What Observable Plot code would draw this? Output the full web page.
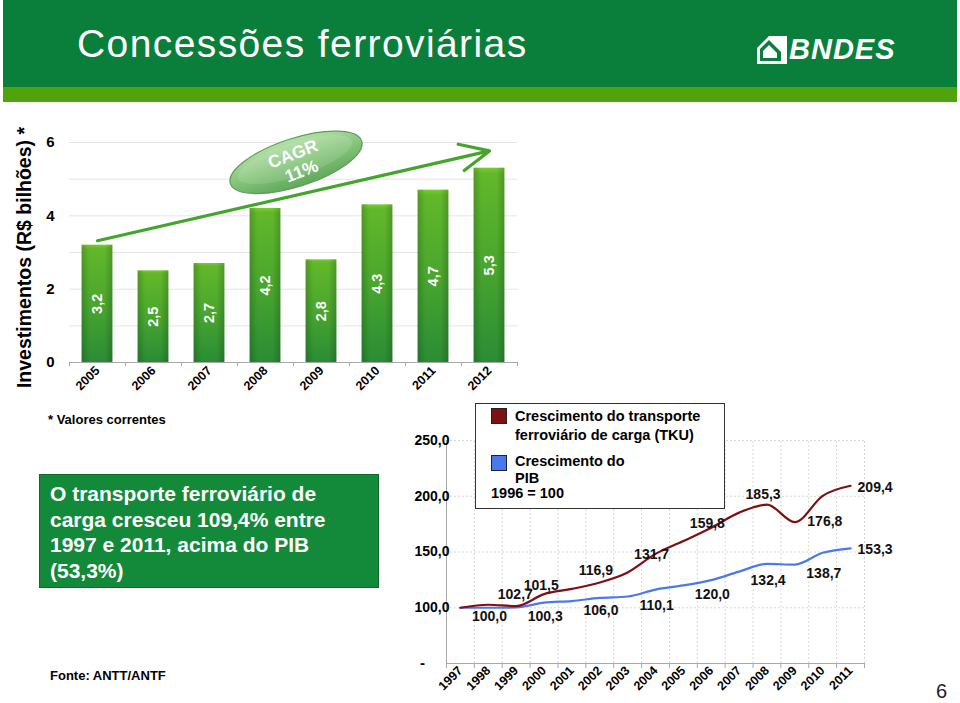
<!DOCTYPE html>
<html><head><meta charset="utf-8">
<script src="https://cdn.jsdelivr.net/npm/d3@7"></script>
<script src="https://cdn.jsdelivr.net/npm/@observablehq/plot@0.6"></script>
<style>
  html,body{margin:0;padding:0;background:#fff;}
  body{width:960px;height:703px;position:relative;overflow:hidden;font-family:"Liberation Sans",Arial,sans-serif;color:#000;}
  .abs{position:absolute;}
  #hdr{left:3px;top:0px;width:954px;height:87px;background:#0a7f3b;}
  #hdr2{left:3px;top:87px;width:954px;height:15px;background:#51a30b;}
  #title{left:77px;top:22px;font-size:39px;color:#fff;letter-spacing:1.4px;white-space:nowrap;}
  #logo{left:757px;top:36px;}
  #bndes{left:789px;top:33px;font-size:29px;font-weight:bold;font-style:italic;color:#fff;letter-spacing:1px;}
  #ylab{left:-131px;top:246px;width:310px;text-align:center;transform:rotate(-90deg);font-size:19.5px;font-weight:bold;white-space:nowrap;}
  #note{left:48px;top:412px;font-size:13px;font-weight:bold;}
  #box{left:39px;top:474px;width:338px;height:112px;background:#13893a;border:1px solid #0c6a2c;}
  #boxtxt{left:50px;top:481px;font-size:21px;line-height:25.7px;font-weight:bold;color:#fff;white-space:nowrap;}
  #fonte{left:50px;top:668px;font-size:13px;font-weight:bold;}
  #page{left:936px;top:680px;font-size:20px;color:#222;line-height:22px;}
  #legend{left:475px;top:403px;width:248px;height:104px;border:1px solid #333;background:#fff;}
  .sw{position:absolute;width:14px;height:14px;border:1px solid #222;}
  .lt{position:absolute;font-size:14.5px;font-weight:bold;white-space:nowrap;line-height:17px;}
  svg{overflow:visible;}
</style>
</head><body>
<div id="hdr" class="abs"></div>
<div id="hdr2" class="abs"></div>
<div id="title" class="abs">Concessões ferroviárias</div>
<svg id="logo" class="abs" width="30" height="28" viewBox="0 0 30 28">
  <polygon points="0,12 12,0 30,0 30,28 0,28" fill="#fff"/>
  <polygon points="3,13 12,4 24,16 24,25 3,25" fill="#0a7f3b"/>
  <polygon points="6,15 12,9 20,17 20,22 6,22" fill="#fff"/>
</svg>
<div id="bndes" class="abs">BNDES</div>
<div id="ylab" class="abs">Investimentos (R$ bilhões) *</div>
<div id="barchart" class="abs" style="left:0;top:100px;"></div>
<div id="note" class="abs">* Valores correntes</div>
<div id="box" class="abs"></div>
<div id="boxtxt" class="abs">O transporte ferroviário de<br>carga cresceu 109,4% entre<br>1997 e 2011, acima do PIB<br>(53,3%)</div>
<div id="fonte" class="abs">Fonte: ANTT/ANTF</div>
<div id="linechart" class="abs" style="left:400px;top:400px;"></div>
<div id="legend" class="abs"></div>
<div id="page" class="abs">6</div>
<script>
// ---------- data ----------
const barYears = ["2005","2006","2007","2008","2009","2010","2011","2012"];
const barValues = [3.2, 2.5, 2.7, 4.2, 2.8, 4.3, 4.7, 5.3];
const barTicks = [0, 2, 4, 6];
const cagrText = ["CAGR", "11%"];

const lineYears = ["1997","1998","1999","2000","2001","2002","2003","2004","2005","2006","2007","2008","2009","2010","2011"];
const tkuValues = [100.0, 102.7, 101.5, 112.2, 116.9, 122.7, 131.7, 148.3, 159.8, 171.8, 185.3, 192.5, 176.8, 200.4, 209.4];
const pibValues = [100.0, 100.0, 100.3, 104.6, 106.0, 108.8, 110.1, 116.3, 120.0, 124.8, 132.4, 139.3, 138.7, 149.3, 153.3];
const tkuLabelYears = ["1998","1999","2001","2003","2005","2007","2009","2011"];
const pibLabelYears = ["1997","1999","2001","2003","2005","2007","2009","2011"];
const lineTicks = [100, 150, 200, 250];
const lineMin = 50;
const seriesNames = ["Crescimento do transporte\nferroviário de carga (TKU)", "Crescimento do\nPIB"];
const baseNote = "1996 = 100";

// ---------- helpers ----------
const fmt1 = v => v.toFixed(1).replace(".", ",");
const font = '"Liberation Sans", Arial, sans-serif';
const RED = "#7d1012", BLUE = "#4a78ee";

// ---------- bar chart ----------
const barData = barYears.map((y, i) => ({year: y, value: barValues[i]}));
const bW = 530, bML = 69, bMR = 13;
const bStep = (bW - bML - bMR) / barYears.length;
const barPlot = Plot.plot({
  width: bW, height: 300,
  marginLeft: bML, marginRight: bMR, marginTop: 42, marginBottom: 38,
  style: {fontFamily: font, background: "transparent", color: "#000"},
  x: {domain: barYears, paddingInner: 0.45, paddingOuter: 0.225, round: false, axis: null},
  y: {domain: [0, 6], axis: null},
  marks: [
    Plot.gridY(d3.range(0, 7), {stroke: "#e4e4e4", strokeOpacity: 1}),
    Plot.axisY({ticks: barTicks, tickFormat: d => String(d), tickSize: 0, tickPadding: 15, fontSize: 15, fontWeight: "bold", label: null}),
    Plot.barY(barData, {x: "year", y: "value", fill: "url(#barGrad)"}),
    Plot.barY(barData, {x: "year", y: "value", fill: "url(#barShade)"}),
    Plot.ruleY([0], {stroke: "#a8a8a8"}),
    Plot.ruleX(barYears, {x: d => d, dx: -bStep / 2, y1: 0, y2: 0, insetBottom: -4, stroke: "#a8a8a8"}),
    Plot.ruleX([barYears[barYears.length - 1]], {x: d => d, dx: bStep / 2, y1: 0, y2: 0, insetBottom: -4, stroke: "#a8a8a8"}),
    Plot.axisX({tickSize: 0, tickRotate: -45, tickPadding: 6, fontSize: 12.5, fontWeight: "bold", label: null}),
    Plot.text(barData, {x: "year", y: d => d.value / 2, text: d => fmt1(d.value), rotate: -90,
      fill: "#fff", fontSize: 14.5, fontWeight: "bold"}),
    Plot.arrow([0], {x1: () => barYears[0], y1: () => barValues[0] + 0.12,
      x2: () => barYears[barYears.length - 1], y2: () => d3.max(barValues) + 0.47,
      stroke: "#43a52b", strokeWidth: 3.2, headLength: 15, headAngle: 50})
  ]
});
(function decorateBars(svg) {
  const s = d3.select(svg);
  s.insert("defs", ":first-child").html(`
    <linearGradient id="barGrad" x1="0" y1="0" x2="0" y2="1">
      <stop offset="0" stop-color="#7acb33"/>
      <stop offset="0.03" stop-color="#62b82a"/>
      <stop offset="0.5" stop-color="#49a62e"/>
      <stop offset="1" stop-color="#2a8c35"/>
    </linearGradient>
    <linearGradient id="barShade" x1="0" y1="0" x2="1" y2="0">
      <stop offset="0" stop-color="#000" stop-opacity="0.18"/>
      <stop offset="0.25" stop-color="#000" stop-opacity="0"/>
      <stop offset="0.75" stop-color="#000" stop-opacity="0"/>
      <stop offset="1" stop-color="#000" stop-opacity="0.18"/>
    </linearGradient>
    <linearGradient id="ellGrad" x1="0" y1="0" x2="0" y2="1">
      <stop offset="0" stop-color="#b4e0a6"/>
      <stop offset="0.5" stop-color="#86c57c"/>
      <stop offset="1" stop-color="#5fa95c"/>
    </linearGradient>`);
  const xs = barPlot.scale("x"), ys = barPlot.scale("y");
  const cx0 = xs.apply(barYears[0]) + xs.bandwidth / 2;
  const cx1 = xs.apply(barYears[barYears.length - 1]) + xs.bandwidth / 2;
  const cy0 = ys.apply(barValues[0] + 0.12), cy1 = ys.apply(d3.max(barValues) + 0.47);
  const mx = (cx0 + cx1) / 2, my = (cy0 + cy1) / 2;
  const g = s.append("g").attr("transform", `translate(${mx + 3},${my - 33}) rotate(-18)`);
  g.append("ellipse").attr("rx", 69).attr("ry", 24).attr("fill", "url(#ellGrad)")
    .attr("stroke", "#5c9e58").attr("stroke-width", 1.2);
  g.append("ellipse").attr("rx", 60).attr("ry", 17).attr("cy", -3).attr("fill", "#fff").attr("opacity", 0.12);
  const t = g.append("text").attr("text-anchor", "middle").attr("fill", "#fff")
    .attr("font-family", font).attr("font-weight", "bold").attr("font-size", 17.5)
    .attr("transform", "rotate(-3)");
  t.append("tspan").attr("x", 0).attr("y", -3).text(cagrText[0]);
  t.append("tspan").attr("x", 2).attr("y", 16).text(cagrText[1]);
})(barPlot);
document.getElementById("barchart").appendChild(barPlot);

// ---------- line chart ----------
const tkuData = lineYears.map((y, i) => ({year: y, value: tkuValues[i]}));
const pibData = lineYears.map((y, i) => ({year: y, value: pibValues[i]}));
const lW = 560, lML = 46, lMR = 96;
const lStep = (lW - lML - lMR) / lineYears.length;
const lastYear = lineYears[lineYears.length - 1];
// label placement (layout only): default offsets per series, special cases by key
const nudge = {"tku-1998": [27, -10], "tku-1999": [25, -21], "tku-2009": [30, -1], "tku-2011": [7, 2], "pib-2011": [7, 1]};
const mkLabels = (data, years, key, dxDefault, dyDefault) => data.filter(d => years.includes(d.year)).map(d => {
  const n = nudge[key + "-" + d.year];
  return {...d, last: d.year === lastYear, dx: n ? n[0] : dxDefault, dy: n ? n[1] : dyDefault};
});
const allLabels = [...mkLabels(tkuData, tkuLabelYears, "tku", 24, -18), ...mkLabels(pibData, pibLabelYears, "pib", 29, 9)];
const offsetGroups = d3.groups(allLabels, d => `${d.dx}|${d.dy}|${d.last}`);
const labelMarks = offsetGroups.map(([, arr]) => Plot.text(arr, {
  x: "year", y: "value", text: d => fmt1(d.value), dx: arr[0].dx, dy: arr[0].dy,
  textAnchor: arr[0].last ? "start" : "middle", fontSize: 14, fontWeight: "bold", fill: "#111"}));
const linePlot = Plot.plot({
  width: lW, height: 303,
  marginLeft: lML, marginRight: lMR, marginTop: 40, marginBottom: 40,
  style: {fontFamily: font, background: "transparent", color: "#000"},
  x: {domain: lineYears, type: "band", padding: 0, round: false, axis: null},
  y: {domain: [lineMin, 250], axis: null},
  marks: [
    Plot.gridY(lineTicks, {stroke: "#d8d8d8", strokeOpacity: 1, strokeDasharray: "2,2"}),
    Plot.ruleX(lineYears.slice(1), {x: d => d, dx: -lStep / 2, y1: lineMin, y2: 250, stroke: "#d8d8d8", strokeDasharray: "2,2"}),
    Plot.ruleX([lastYear], {x: d => d, dx: lStep / 2, y1: lineMin, y2: 250, stroke: "#d8d8d8", strokeDasharray: "2,2"}),
    Plot.ruleX([lineYears[0]], {x: d => d, dx: -lStep / 2, y1: lineMin, y2: 250, stroke: "#a8a8a8"}),
    Plot.ruleY([lineMin], {stroke: "#a8a8a8"}),
    Plot.ruleX(lineYears, {x: d => d, dx: -lStep / 2, y1: lineMin, y2: lineMin, insetBottom: -5, stroke: "#a8a8a8"}),
    Plot.ruleX([lastYear], {x: d => d, dx: lStep / 2, y1: lineMin, y2: lineMin, insetBottom: -5, stroke: "#a8a8a8"}),
    Plot.axisY({ticks: lineTicks, tickSize: 0, tickPadding: 0, dx: 3, tickFormat: fmt1, fontSize: 14, fontWeight: "bold", label: null}),
    Plot.text([lineMin], {x: () => lineYears[0], y: d => d, text: () => "-", dx: -lStep / 2 - 24, fontSize: 15, fontWeight: "bold"}),
    Plot.axisX({tickSize: 0, tickRotate: -45, tickPadding: 5, fontSize: 12.5, fontWeight: "bold", label: null}),
    Plot.line(pibData, {x: "year", y: "value", stroke: BLUE, strokeWidth: 2.2, curve: "monotone-x"}),
    Plot.line(tkuData, {x: "year", y: "value", stroke: RED, strokeWidth: 2.2, curve: "monotone-x"}),
    ...labelMarks
  ]
});
document.getElementById("linechart").appendChild(linePlot);

// ---------- legend ----------
const legend = document.getElementById("legend");
const addSw = (top, color) => { const e = document.createElement("div"); e.className = "sw"; e.style.left = "15px"; e.style.top = top + "px"; e.style.background = color; legend.appendChild(e); };
const addTxt = (left, top, txt) => { const e = document.createElement("div"); e.className = "lt"; e.style.left = left + "px"; e.style.top = top + "px"; e.textContent = txt; legend.appendChild(e); };
addSw(4, RED); addSw(51, BLUE);
const n0 = seriesNames[0].split("\n"), n1 = seriesNames[1].split("\n");
addTxt(39, 4, n0[0]); addTxt(39, 23, n0[1]);
addTxt(39, 49, n1[0]); addTxt(39, 66, n1[1]);
addTxt(15, 81, baseNote);
</script>
</body></html>
